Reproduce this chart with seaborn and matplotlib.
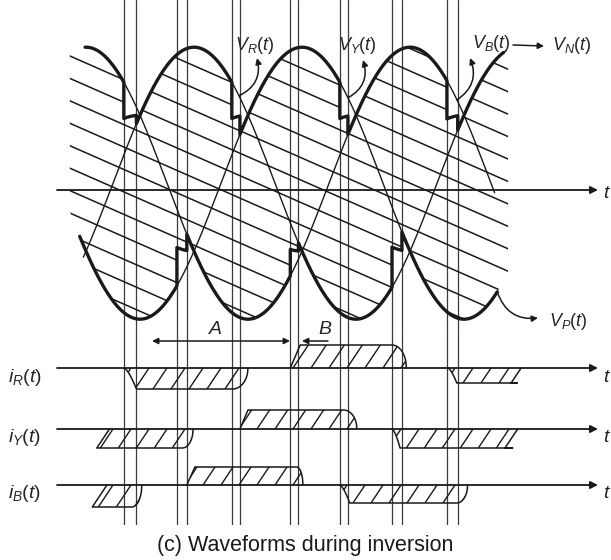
import numpy as np
import matplotlib
matplotlib.use("Agg")
import matplotlib.pyplot as plt
from matplotlib.patches import Polygon
from matplotlib.collections import LineCollection
import seaborn as sns

# ---- data: time in electrical degrees, voltage per-unit of the phase peak ----
phases = ["R", "Y", "B"]
phase_lag = {"R": 0, "Y": 120, "B": 240}
v_centre = 0.05                      # drawn centre sits a little above the t axis
curve_from = {"R": -33, "Y": -37, "B": -31}
curve_to = {"R": 437, "Y": 427, "B": 424}

# firing instants and end of overlap (one pair of vertical lines each)
fire = [12, 71, 132, 197, 252, 310, 371]
overlap_end = [26, 82, 141, 206, 261, 321, 383]
rail = ["N", "P", "N", "P", "N", "P", "N"]
incoming = ["R", "B", "Y", "R", "B", "Y", "R"]
rail_first = {"N": "B", "P": "Y"}
rail_span = {"N": (-31, 434), "P": (-37, 427)}
hatched_span = (-48, 439)

# phase currents: (rise start, rise end, fall start, fall end, level), None = open end
i_R = [(12, 26, 133, 150, -1.05), (197, 208, 310, 326, 1.15), (372, 382, 449, None, -0.75)]
i_Y = [(None, -18, 77, 89, -0.95), (141, 150, 256, 271, 0.95), (310, 319, 444, None, -0.95)]
i_B = [(None, -23, 21, 32, -1.1), (82, 91, 204, 211, 0.9), (252, 263, 382, 394, -0.9)]
currents = {"R": i_R, "Y": i_Y, "B": i_B}

# ---- layout (pixels of the 611x560 picture) ----
px_deg = 0.9          # pixels per degree
x_zero = 113          # pixel column of theta = 0
v_px = 136            # pixels per unit voltage
i_px = 20             # pixels per unit current
baseline = {"R": 0.0, "Y": -61 / i_px, "B": -117 / i_px}


def deg(px):
    return (px - x_zero) / px_deg


def phase_v(th, ph):
    return v_centre + np.sin(np.radians(th - phase_lag[ph]))


def rail_curve(r, t0, t1):
    th, vv = [], []
    cur, a = rail_first[r], t0
    for f, e, rr, new in zip(fire, overlap_end, rail, incoming):
        if rr != r:
            continue
        seg = np.linspace(a, f, 80)
        th.append(seg)
        vv.append(phase_v(seg, cur))
        seg = np.linspace(f, e, 12)
        th.append(seg)
        vv.append((phase_v(seg, cur) + phase_v(seg, new)) / 2)
        cur, a = new, e
    seg = np.linspace(a, t1, 80)
    th.append(seg)
    vv.append(phase_v(seg, cur))
    return np.concatenate(th), np.concatenate(vv)


sns.set_theme(style="white")
plt.rcParams["font.family"] = ["Liberation Sans", "DejaVu Sans"]
plt.rcParams["mathtext.fontset"] = "custom"
plt.rcParams["mathtext.it"] = "Liberation Sans:italic"
plt.rcParams["mathtext.rm"] = "Liberation Sans"
plt.rcParams["mathtext.bf"] = "Liberation Sans:bold"

fig = plt.figure(figsize=(6.11, 5.6), dpi=100, facecolor="white")
ax_v = fig.add_axes([0, 230 / 560, 1, 330 / 560])
ax_i = fig.add_axes([0, 35 / 560, 1, 195 / 560])
for ax in (ax_v, ax_i):
    ax.set_xlim(deg(0), deg(611))
    ax.axis("off")
ax_v.set_ylim(-140 / v_px, 190 / v_px)
ax_i.set_ylim(-157 / i_px, 38 / i_px)

ink = "#1a1a1a"
kw = dict(sort=False, estimator=None, errorbar=None, legend=False, color=ink)

# commutation instants
for x in fire + overlap_end:
    ax_v.axvline(x, color="#3a3a3a", lw=0.9, zorder=1)
    ax_i.axvline(x, color="#3a3a3a", lw=0.9, zorder=1)

# hatched output voltage between V_N and V_P
tn, vn = rail_curve("N", *hatched_span)
tp, vp = rail_curve("P", *hatched_span)
region = Polygon(np.column_stack([np.r_[tn, tp[::-1]], np.r_[vn, vp[::-1]]]),
                 closed=True, fc="none", ec="none")
ax_v.add_patch(region)
slope_v = -0.44 * px_deg / v_px
segs = []
for v0 in np.arange(-0.804, 2.45, 0.165):
    xs = np.array([hatched_span[0] - 10, hatched_span[1] + 10])
    segs.append(np.column_stack([xs, v0 + slope_v * xs]))
lc = LineCollection(segs, colors=ink, lw=1.1, zorder=2)
ax_v.add_collection(lc)
lc.set_clip_path(region)

# phase voltages
for ph in phases:
    th = np.linspace(curve_from[ph], curve_to[ph], 500)
    sns.lineplot(x=th, y=phase_v(th, ph), ax=ax_v, lw=1.0, zorder=3, **kw)

# V_N and V_P rails
for r in ("N", "P"):
    th, vv = rail_curve(r, *rail_span[r])
    sns.lineplot(x=th, y=vv, ax=ax_v, lw=2.4, zorder=4, **kw)

arrow = dict(arrowstyle="-|>", color=ink, lw=1.3, mutation_scale=11, shrinkA=0, shrinkB=0)
ax_v.annotate("", xy=(deg(598), 0), xytext=(deg(57), 0), arrowprops=arrow, zorder=5)
ax_v.text(deg(603), -3 / v_px, "$t$", ha="left", va="center", fontsize=14)

# voltage labels
lab = dict(ha="center", va="center", fontsize=13)
curved = dict(arrowstyle="-|>", color=ink, lw=1.1, mutation_scale=9,
              shrinkA=0, shrinkB=0, connectionstyle="arc3,rad=0.4")
ax_v.text(deg(255), 144 / v_px, "$V_R(t)$", **lab)
ax_v.annotate("", xy=(deg(257), 132 / v_px), xytext=(deg(239), phase_v(deg(239), "R")),
              arrowprops=curved)
ax_v.text(deg(357), 144 / v_px, "$V_Y(t)$", **lab)
ax_v.annotate("", xy=(deg(363), 130 / v_px), xytext=(deg(348), phase_v(deg(348), "Y")),
              arrowprops=curved)
ax_v.text(deg(491), 146 / v_px, "$V_B(t)$", **lab)
ax_v.annotate("", xy=(deg(470), 132 / v_px), xytext=(deg(457), phase_v(deg(457), "B")),
              arrowprops=curved)
ax_v.annotate("", xy=(deg(544), 144 / v_px), xytext=(deg(513), 145 / v_px),
              arrowprops=dict(arrowstyle="-|>", color=ink, lw=1.1, mutation_scale=9,
                              shrinkA=0, shrinkB=0))
ax_v.text(deg(572), 145 / v_px, "$V_N(t)$", **lab)
ax_v.annotate("", xy=(deg(538), -128 / v_px),
              xytext=(rail_span["P"][1], phase_v(rail_span["P"][1], "Y")),
              arrowprops=curved)
ax_v.text(deg(568), -131 / v_px, "$V_P(t)$", **lab)

# phase currents
k_hatch = 1.5 * px_deg / i_px
u = np.linspace(0, 1, 30)
for ph in phases:
    b = baseline[ph]
    ax_i.annotate("", xy=(deg(598), b), xytext=(deg(57), b), arrowprops=arrow, zorder=5)
    ax_i.text(deg(8), b - 9 / i_px, f"$i_{ph}(t)$", ha="left", va="center", fontsize=14)
    ax_i.text(deg(603), b - 9 / i_px, "$t$", ha="left", va="center", fontsize=14)
    for s0, s1, f0, f1, L in currents[ph]:
        d = abs(L) / k_hatch
        if s0 is None:
            rise_t, rise_i = np.array([s1 + d, s1]), np.array([0, L])
        elif L > 0:
            rise_t, rise_i = s0 + u * (s1 - s0), L * u
        else:
            rise_t, rise_i = s0 + u * (s1 - s0), L * u ** 1.5
        if f1 is None:
            fall_t, fall_i = np.array([f0, f0 - 0.6 * d, f0 + 0.4 * d]), np.array([L, L, 0])
        else:
            fall_t, fall_i = f0 + u * (f1 - f0), L * np.sqrt(1 - u ** 2)
        th = np.r_[rise_t, fall_t]
        ii = b + np.r_[rise_i, fall_i]
        sns.lineplot(x=th, y=ii, ax=ax_i, lw=1.1, zorder=4, **kw)
        pulse = Polygon(np.column_stack([th, ii]), closed=True, fc="none", ec="none")
        ax_i.add_patch(pulse)
        segs = []
        for tk in np.arange(-120, 520, 20.0):
            xs = np.array([tk - 25, tk + 25])
            segs.append(np.column_stack([xs, b + k_hatch * (xs - tk)]))
        hc = LineCollection(segs, colors=ink, lw=1.0, zorder=3)
        ax_i.add_collection(hc)
        hc.set_clip_path(pulse)

# overlap interval markers
ax_i.annotate("", xy=(deg(152), 27 / i_px), xytext=(deg(290), 27 / i_px),
              arrowprops=dict(arrowstyle="<|-|>", color=ink, lw=1.1, mutation_scale=9,
                              shrinkA=0, shrinkB=0))
ax_i.text(deg(215), 38 / i_px, "$A$", ha="center", va="center", fontsize=14)
ax_i.annotate("", xy=(deg(302), 27 / i_px), xytext=(deg(328), 27 / i_px),
              arrowprops=dict(arrowstyle="-|>", color=ink, lw=1.1, mutation_scale=9,
                              shrinkA=0, shrinkB=0))
ax_i.text(deg(325), 38 / i_px, "$B$", ha="center", va="center", fontsize=14)

fig.text(0.5, 1 - 546 / 560, "(c) Waveforms during inversion", ha="center",
         va="center", fontsize=15.5, color=ink)

fig.savefig("out.png", dpi=100, facecolor="white")
